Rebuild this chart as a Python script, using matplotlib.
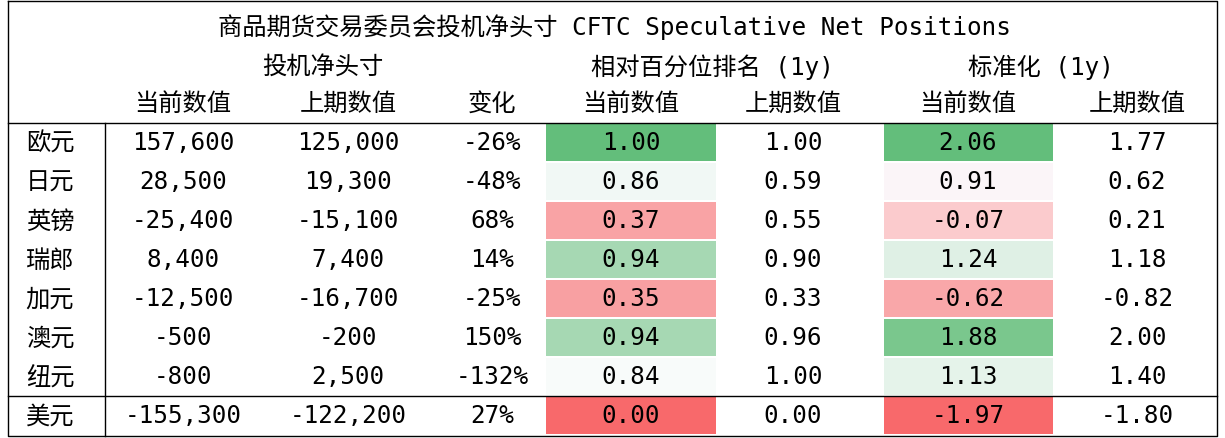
import matplotlib
matplotlib.use("Agg")
import matplotlib.pyplot as plt

plt.rcParams['font.family'] = ['DejaVu Sans Mono', 'Noto Sans CJK SC']

rows = ["欧元", "日元", "英镑", "瑞郎", "加元", "澳元", "纽元", "美元"]
cur = ["157,600", "28,500", "-25,400", "8,400", "-12,500", "-500", "-800", "-155,300"]
prev = ["125,000", "19,300", "-15,100", "7,400", "-16,700", "-200", "2,500", "-122,200"]
chg = ["-26%", "-48%", "68%", "14%", "-25%", "150%", "-132%", "27%"]
pct_cur = [1.00, 0.86, 0.37, 0.94, 0.35, 0.94, 0.84, 0.00]
pct_prev = [1.00, 0.59, 0.55, 0.90, 0.33, 0.96, 1.00, 0.00]
z_cur = [2.06, 0.91, -0.07, 1.24, -0.62, 1.88, 1.13, -1.97]
z_prev = [1.77, 0.62, 0.21, 1.18, -0.82, 2.00, 1.40, -1.80]
pct_colors = ["#63BE7B", "#F1F8F5", "#F9A3A5", "#A6D8B3", "#F8A0A2", "#A6D8B3", "#F8FBFA", "#F8696B"]
z_colors = ["#63BE7B", "#FBF5F8", "#FBCBCD", "#DFF0E5", "#F9A7A9", "#7AC78D", "#E5F3EA", "#F8696B"]

fig = plt.figure(figsize=(12.25, 4.39), dpi=100)
ax = fig.add_axes([0, 0, 1, 1])
ax.set_xlim(0, 1225); ax.set_ylim(439, 0); ax.axis('off')

fs = 17.5
ax.text(614, 27, "商品期货交易委员会投机净头寸 CFTC Speculative Net Positions", ha='center', va='center', fontsize=fs)
ax.text(323, 67, "投机净头寸", ha='center', va='center', fontsize=fs)
ax.text(712, 67, "相对百分位排名 (1y)", ha='center', va='center', fontsize=fs)
ax.text(1041, 67, "标准化 (1y)", ha='center', va='center', fontsize=fs)
xs = [50, 183, 348, 492, 631, 793, 968, 1137]
heads = ["当前数值", "上期数值", "变化", "当前数值", "上期数值", "当前数值", "上期数值"]
for x, h in zip(xs[1:], heads):
    ax.text(x, 104, h, ha='center', va='center', fontsize=fs)

top = 124; rh = 39
for i, r in enumerate(rows):
    y0 = top + i * rh
    yc = y0 + rh / 2
    ax.add_patch(plt.Rectangle((546, y0 + 1), 170, rh - 2, color=pct_colors[i], lw=0))
    ax.add_patch(plt.Rectangle((884, y0 + 1), 169, rh - 2, color=z_colors[i], lw=0))
    vals = [r, cur[i], prev[i], chg[i], f"{pct_cur[i]:.2f}", f"{pct_prev[i]:.2f}", f"{z_cur[i]:.2f}", f"{z_prev[i]:.2f}"]
    for x, v in zip(xs, vals):
        ax.text(x, yc, v, ha='center', va='center', fontsize=fs)

lc = 'black'
ax.plot([8, 1217, 1217, 8, 8], [2, 2, 437, 437, 2], color=lc, lw=1)
ax.plot([8, 1217], [top, top], color=lc, lw=1)
ax.plot([8, 1217], [top + 7 * rh, top + 7 * rh], color=lc, lw=1)
ax.plot([105, 105], [top, 437], color=lc, lw=1)

fig.savefig("out.png", dpi=100)
